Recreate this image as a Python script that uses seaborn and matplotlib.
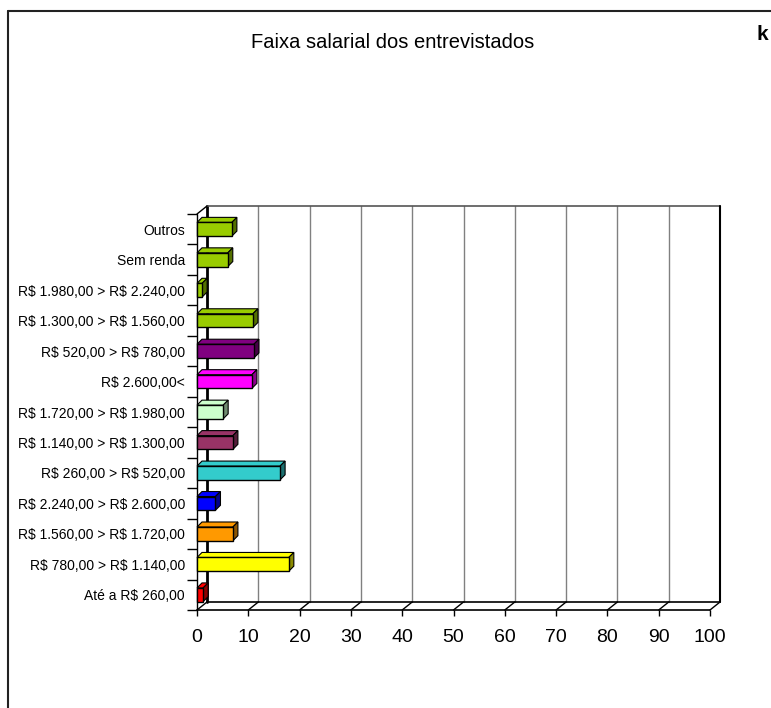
import matplotlib
matplotlib.use("Agg")
import matplotlib.pyplot as plt
from matplotlib.patches import Polygon, Rectangle
from matplotlib.lines import Line2D
import matplotlib.colors as mcolors
import seaborn as sns
import pandas as pd
import numpy as np

# ---------------- data ----------------
categories = [
    "Outros",
    "Sem renda",
    "R$ 1.980,00 > R$ 2.240,00",
    "R$ 1.300,00 > R$ 1.560,00",
    "R$ 520,00 > R$ 780,00",
    "R$ 2.600,00<",
    "R$ 1.720,00 > R$ 1.980,00",
    "R$ 1.140,00 > R$ 1.300,00",
    "R$ 260,00 > R$ 520,00",
    "R$ 2.240,00 > R$ 2.600,00",
    "R$ 1.560,00 > R$ 1.720,00",
    "R$ 780,00 > R$ 1.140,00",
    "Até a R$ 260,00",
]
values = [6.8, 6.0, 1.0, 10.9, 11.1, 10.7, 5.1, 7.0, 16.2, 3.6, 7.0, 17.9, 1.2]
colors = ["#99CC00", "#99CC00", "#99CC00", "#99CC00", "#800080", "#FF00FF",
          "#CCFFCC", "#993366", "#33CCCC", "#0000FF", "#FF9900", "#FFFF00", "#FF0000"]
xticks = [0, 10, 20, 30, 40, 50, 60, 70, 80, 90, 100]
title = "Faixa salarial dos entrevistados"

# ---------------- figure ----------------
sns.set_theme(style="white")
plt.rcParams['font.family'] = ['Liberation Sans', 'DejaVu Sans']
plt.rcParams['text.parse_math'] = False

W, H = 771, 708
fig = plt.figure(figsize=(W / 100, H / 100), dpi=100)
fig.patch.set_facecolor("white")

def fx(px):
    return px / W

def fy(py):
    return 1 - py / H

X0, X1 = 197, 710
YT, YB = 214, 610
ax = fig.add_axes([fx(X0), fy(YB), fx(X1) - fx(X0), fy(YT) - fy(YB)])
ax.set_facecolor("none")

df = pd.DataFrame({"faixa": categories, "valor": values})
sns.barplot(data=df, y="faixa", x="valor", hue="faixa", palette=colors,
            orient="h", width=0.45, edgecolor="black", linewidth=1.0,
            ax=ax, legend=False, zorder=5, saturation=1)

n = len(categories)
ax.set_xlim(0, 100)
ax.set_ylim(n - 0.5, -0.5)
for s in ax.spines.values():
    s.set_visible(False)
ax.grid(False)

# pixel -> data scales
ux = (X1 - X0) / 100.0          # px per x unit
uy = (YB - YT) / n               # px per y unit
wdx, wdy = 10 / ux, 8 / uy       # wall depth in data units
bdx, bdy = 5 / ux, 5 / uy        # bar depth

ybot, ytop = n - 0.5, -0.5
# back wall gridlines
for xv in xticks[1:-1]:
    ax.plot([xv + wdx, xv + wdx], [ybot - wdy, ytop - wdy], color="#808080",
            lw=1.0, zorder=1, clip_on=False)
# back wall border
ax.plot([wdx, wdx], [ybot - wdy, ytop - wdy], color="black", lw=2.0, zorder=2, clip_on=False)
ax.plot([wdx, 100 + wdx], [ytop - wdy, ytop - wdy], color="#555555", lw=1.2, zorder=2, clip_on=False)
ax.plot([100 + wdx, 100 + wdx], [ybot - wdy, ytop - wdy], color="black", lw=1.5, zorder=2, clip_on=False)
ax.plot([wdx, 100 + wdx], [ybot - wdy, ybot - wdy], color="black", lw=1.2, zorder=2, clip_on=False)
# floor diagonals
for xv in xticks:
    ax.plot([xv, xv + wdx], [ybot, ybot - wdy], color="black", lw=1.0, zorder=2, clip_on=False)
# left side diagonal at top
ax.plot([0, wdx], [ytop, ytop - wdy], color="black", lw=1.0, zorder=2, clip_on=False)
# front axes
ax.plot([0, 100], [ybot, ybot], color="black", lw=1.2, zorder=3, clip_on=False)
ax.plot([0, 0], [ybot, ytop], color="black", lw=1.0, zorder=3, clip_on=False)

# 3D faces of bars
for p in list(ax.patches):
    if not isinstance(p, Rectangle):
        continue
    x, y, w, h = p.get_x(), p.get_y(), p.get_width(), p.get_height()
    if w <= 0:
        continue
    fc = np.array(mcolors.to_rgb(p.get_facecolor()))
    top = Polygon([(x, y), (x + w, y), (x + w + bdx, y - bdy), (x + bdx, y - bdy)],
                  closed=True, facecolor=fc, edgecolor="black", lw=0.8, zorder=4, clip_on=False)
    side = Polygon([(x + w, y), (x + w, y + h), (x + w + bdx, y + h - bdy), (x + w + bdx, y - bdy)],
                   closed=True, facecolor=fc * 0.55, edgecolor="black", lw=0.8, zorder=4, clip_on=False)
    ax.add_patch(top)
    ax.add_patch(side)
    p.set_zorder(6)
    p.set_clip_on(False)

# ticks
ax.set_xticks(xticks)
ax.set_xticklabels([str(v) for v in xticks], fontsize=14, color="black")
ax.tick_params(axis="x", bottom=True, length=4, width=1.0, color="black",
               direction="out", pad=9.5)
ax.set_yticks(range(n))
ax.set_yticklabels(categories, fontsize=10, color="black")
ax.tick_params(axis="y", left=True, length=0, pad=8.6)
ax.set_yticks([k - 0.5 for k in range(n + 1)], minor=True)
ax.tick_params(axis="y", which="minor", left=True, length=7, width=1.0, color="black")
ax.set_xlabel("")
ax.set_ylabel("")

# title and stray text
fig.text(fx(393), fy(42), title, ha="center", va="center", fontsize=14.5, color="black")
fig.text(fx(757), fy(34), "k", ha="left", va="center", fontsize=15, fontweight="bold", color="black")

# outer frame
fig.add_artist(Line2D([fx(8), fx(8)], [fy(11), 0], transform=fig.transFigure, color="#222222", lw=1.5))
fig.add_artist(Line2D([fx(8), 1], [fy(11), fy(11)], transform=fig.transFigure, color="#222222", lw=1.5))

fig.savefig("out.png", dpi=100)
